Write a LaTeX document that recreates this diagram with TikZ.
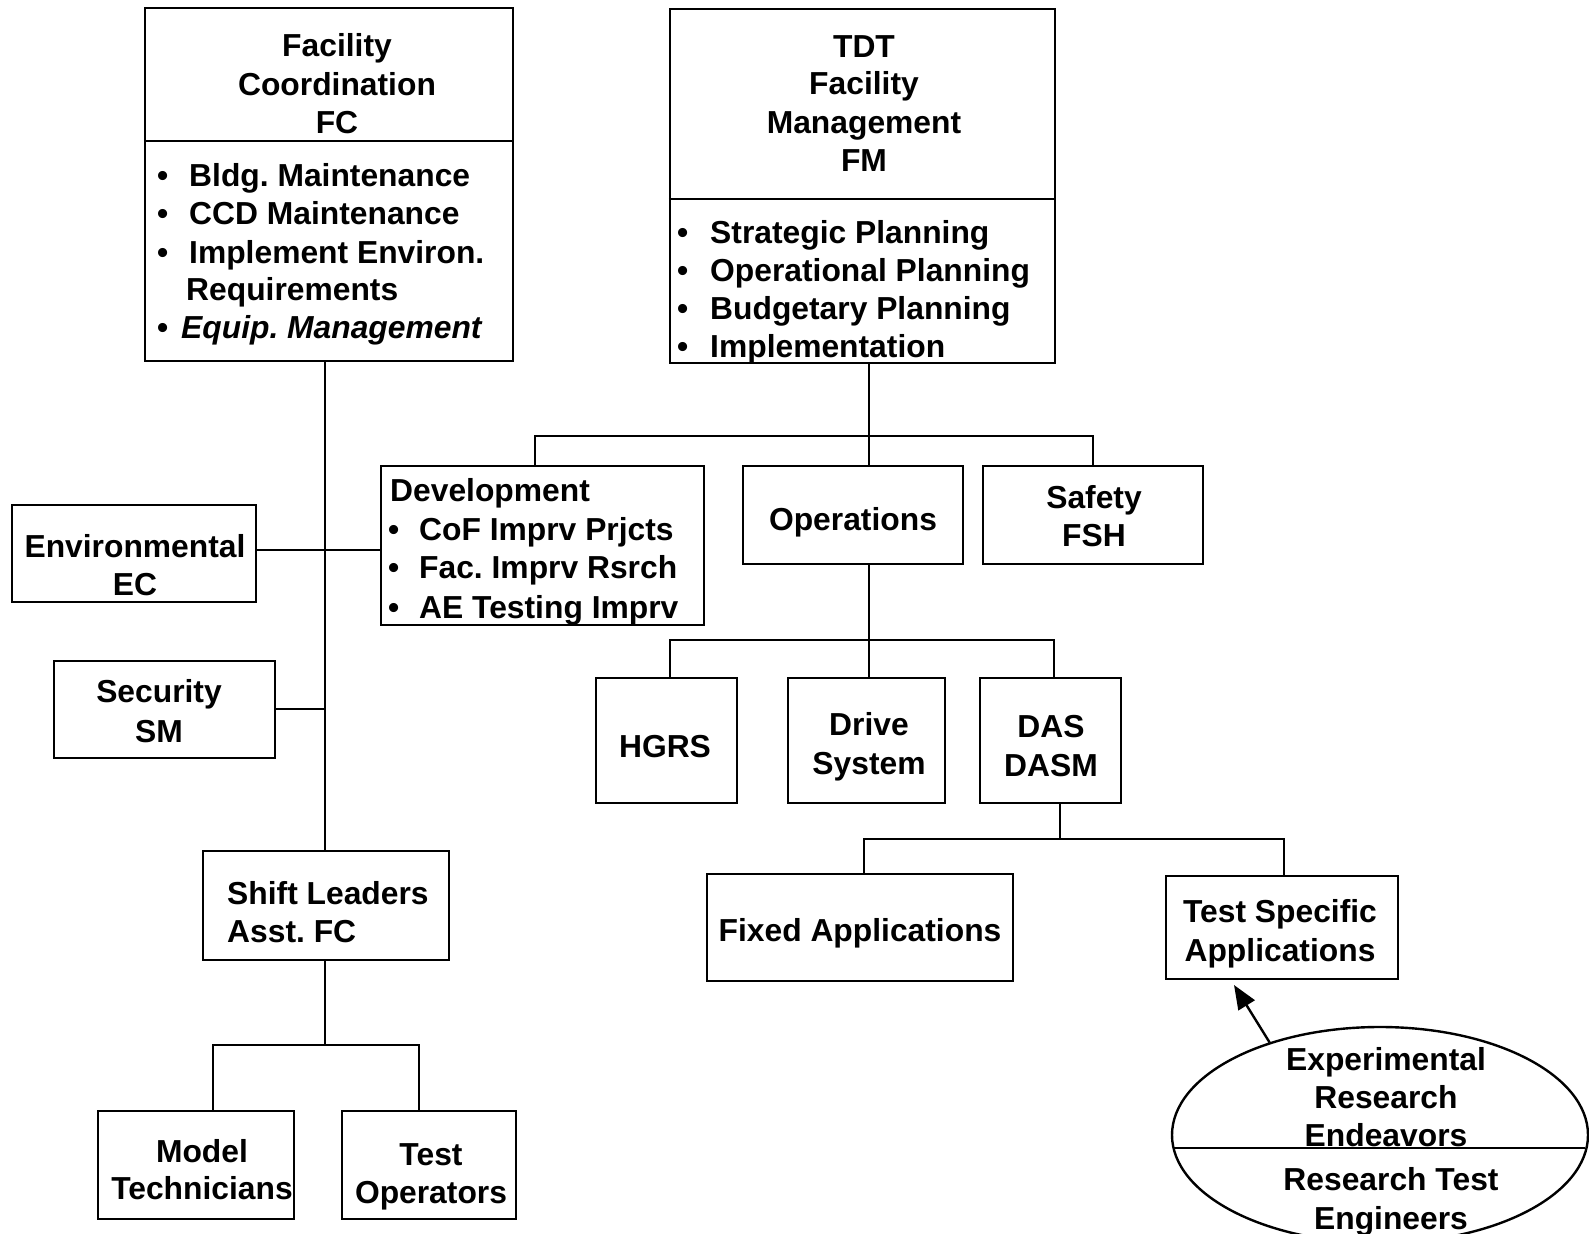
\documentclass[tikz,border=0pt]{standalone}
\usepackage{fontspec}
\setmainfont{Liberation Sans}
\usetikzlibrary{shapes.geometric,arrows.meta,fit,calc}
\frenchspacing
\newcommand\ctext[4]{\node[txt,anchor=base] (#1) at (#2,#3+2) {#4};}
\newcommand\ltext[4]{\node[txt,anchor=base west] (#1) at (#2,#3+2) {#4};}
\newcommand\btext[5]{\node[txt,anchor=base west] (#1b) at (#2,#4+2) {•};\node[txt,anchor=base west] (#1) at (#3,#4+2) {#5};}
\begin{document}
\begin{tikzpicture}[x=0.5pt,y=-0.5pt,line width=1.2pt,
  box/.style={draw,rectangle,inner sep=0pt},
  txt/.style={inner sep=0pt,font=\fontsize{15.9}{19}\selectfont\bfseries},
  conn/.style={line width=1.2pt},
  arr/.style={line width=1.2pt,-{Triangle[length=12pt,width=9.5pt]}}]
\useasboundingbox (0,0) rectangle (1589,1234);

% ---------- boxes ----------
\node[box,fit={(145,8)(513,361)}] (fc) {};
\node[box,fit={(670,9)(1055,363)}] (tdt) {};
\node[box,fit={(12,505)(256,602)}] (env) {};
\node[box,fit={(54,661)(275,758)}] (sec) {};
\node[box,fit={(381,466)(704,625)}] (dev) {};
\node[box,fit={(743,466)(963,564)}] (ops) {};
\node[box,fit={(983,466)(1203,564)}] (saf) {};
\node[box,fit={(596,678)(737,803)}] (hgrs) {};
\node[box,fit={(788,678)(945,803)}] (drive) {};
\node[box,fit={(980,678)(1121,803)}] (das) {};
\node[box,fit={(707,874)(1013,981)}] (fixed) {};
\node[box,fit={(1166,876)(1398,979)}] (tsa) {};
\node[box,fit={(203,851)(449,960)}] (shift) {};
\node[box,fit={(98,1111)(294,1219)}] (model) {};
\node[box,fit={(342,1111)(516,1219)}] (testop) {};
\node[draw,ellipse,inner sep=0pt,minimum width=208pt,minimum height=108pt] (ell) at (1380,1135) {};

% dividers
\draw (fc.west |- 0,141) -- (fc.east |- 0,141);
\draw (tdt.west |- 0,199) -- (tdt.east |- 0,199);
\draw ($(ell.center)+(-206,13)$) -- ($(ell.center)+(205,13)$);

% ---------- texts ----------
\ctext{fc1}{337}{55}{Facility}
\ctext{fc2}{337}{94}{Coordination}
\ctext{fc3}{337}{132}{FC}
\btext{fcb1}{156}{188}{185}{Bldg. Maintenance}
\btext{fcb2}{156}{188}{223}{CCD Maintenance}
\btext{fcb3}{156}{188}{262}{Implement Environ.}
\ltext{fcb4}{185}{299}{Requirements}
\btext{fcb5}{156}{180}{337}{\itshape Equip. Management}

\ctext{td1}{864}{56}{TDT}
\ctext{td2}{864}{93}{Facility}
\ctext{td3}{864}{132}{Management}
\ctext{td4}{864}{170}{FM}
\btext{tdb1}{676}{709}{242}{Strategic Planning}
\btext{tdb2}{676}{709}{280}{Operational Planning}
\btext{tdb3}{676}{709}{318}{Budgetary Planning}
\btext{tdb4}{676}{709}{356}{Implementation}

\ctext{en1}{135}{556}{Environmental}
\ctext{en2}{135}{594}{EC}
\ctext{se1}{159}{701}{Security}
\ctext{se2}{159}{740}{SM}

\ltext{dv0}{389}{500}{Development}
\btext{dv1}{387}{418}{539}{CoF Imprv Prjcts}
\btext{dv2}{387}{418}{577}{Fac. Imprv Rsrch}
\btext{dv3}{387}{418}{616}{AE Testing Imprv}

\ctext{op1}{853}{529}{Operations}
\ctext{sa1}{1094}{507}{Safety}
\ctext{sa2}{1094}{545}{FSH}

\ctext{hg1}{665}{755}{HGRS}
\ctext{dr1}{869}{733}{Drive}
\ctext{dr2}{869}{772}{System}
\ctext{da1}{1051}{735}{DAS}
\ctext{da2}{1051}{774}{DASM}

\ctext{fx1}{860}{939}{Fixed Applications}
\ctext{ts1}{1280}{920}{Test Specific}
\ctext{ts2}{1280}{959}{Applications}

\ltext{sh1}{226}{902}{Shift Leaders}
\ltext{sh2}{226}{940}{Asst. FC}
\ctext{mo1}{202}{1160}{Model}
\ctext{mo2}{202}{1197}{Technicians}
\ctext{to1}{431}{1163}{Test}
\ctext{to2}{431}{1201}{Operators}

\ctext{el1}{1386}{1068}{Experimental}
\ctext{el2}{1386}{1106}{Research}
\ctext{el3}{1386}{1144}{Endeavors}
\ctext{el4}{1391}{1188}{Research Test}
\ctext{el5}{1391}{1227}{Engineers}

% ---------- connectors ----------
% FC trunk
\coordinate (ft) at (325,0);
\draw[conn] (ft |- fc.south) -- (ft |- shift.north);
\coordinate (ej) at (325,550);
\draw[conn] (ej -| env.east) -- (ej -| dev.west);
\coordinate (sj) at (325,709);
\draw[conn] (sj -| sec.east) -- (sj);

% TDT tree
\coordinate (tb1) at (535,436);
\coordinate (tb2) at (1093,436);
\coordinate (tbt) at (869,436);
\draw[conn] (tb1 |- dev.north) -- (tb1) -- (tb2) -- (tb2 |- saf.north);
\draw[conn] (tbt |- tdt.south) -- (tbt |- ops.north);

% Operations tree
\coordinate (ob1) at (670,640);
\coordinate (ob2) at (1054,640);
\coordinate (obt) at (869,640);
\draw[conn] (ob1 |- hgrs.north) -- (ob1) -- (ob2) -- (ob2 |- das.north);
\draw[conn] (obt |- ops.south) -- (obt |- drive.north);

% DAS tree
\coordinate (dt) at (1060,839);
\coordinate (db1) at (864,839);
\coordinate (db2) at (1284,839);
\draw[conn] (dt |- das.south) -- (dt);
\draw[conn] (db1 |- fixed.north) -- (db1) -- (db2) -- (db2 |- tsa.north);

% Shift tree
\coordinate (st) at (325,1045);
\coordinate (sb1) at (213,1045);
\coordinate (sb2) at (419,1045);
\draw[conn] (st |- shift.south) -- (st);
\draw[conn] (sb1 |- model.north) -- (sb1) -- (sb2) -- (sb2 |- testop.north);

% arrow
\coordinate (arrtip) at (1234,985);
\draw[arr] (ell.140.8) -- (arrtip);
\end{tikzpicture}
\end{document}
